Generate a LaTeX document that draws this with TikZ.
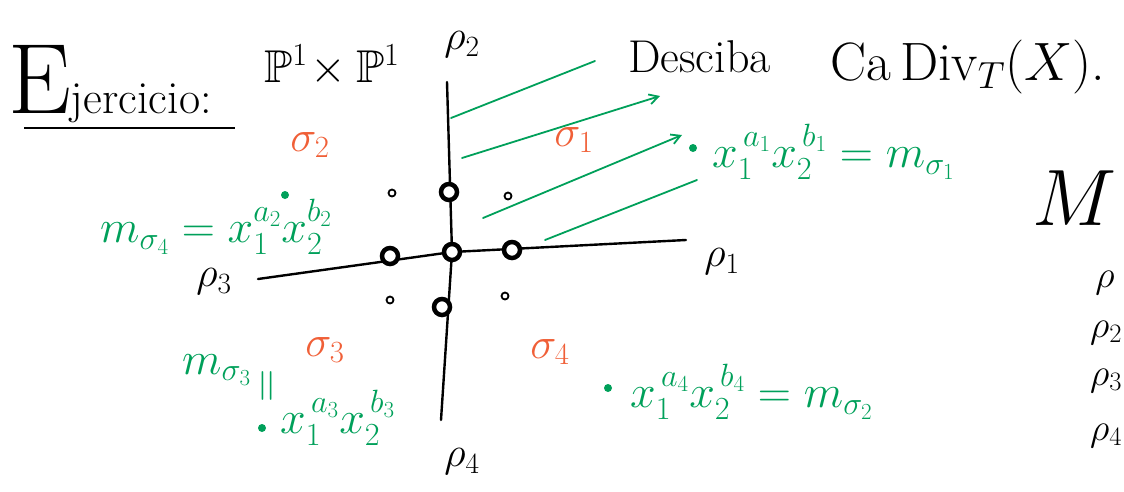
\RequirePackage{fix-cm}
\documentclass[tikz,border=0pt]{standalone}
\usepackage{amsmath, amssymb}
\usepackage{xcolor}
\usepackage{tikz}
\usetikzlibrary{arrows.meta}

\definecolor{penGreen}{RGB}{0,160,90}
\definecolor{penOrange}{RGB}{240,95,55}

\begin{document}
\begin{tikzpicture}[x=1pt, y=-1pt, >={Straight Barb[length=9pt, width=10pt]},
    axis/.style={line width=2.4pt, line cap=round},
    hatch/.style={penGreen, line width=1.8pt, line cap=round},
    bigpt/.style={circle, draw, line width=4.5pt, fill=white, inner sep=0pt, minimum size=16pt},
    smallpt/.style={circle, draw, line width=1.8pt, fill=white, inner sep=0pt, minimum size=7pt},
    gdot/.style={circle, fill=penGreen, inner sep=0pt, minimum size=8pt},
    conelabel/.style={text=penOrange, font=\fontsize{44}{44}\selectfont, inner sep=0pt},
    monomial/.style={text=penGreen, font=\fontsize{46}{46}\selectfont, inner sep=0pt},
    raylabel/.style={font=\fontsize{42}{42}\selectfont, inner sep=0pt},
    listlabel/.style={anchor=base, inner sep=0pt, font=\fontsize{38}{38}\selectfont},
    title/.style={font=\fontsize{46}{46}\selectfont, inner sep=0pt}]
    \useasboundingbox (0,0) rectangle (1124,491);

    % heading
    \node (ejer) [anchor=base west, inner sep=0pt] at (8,113) {{\fontsize{100}{100}\selectfont E}{\fontsize{46}{46}\selectfont jercicio:}};
    \draw[line width=2pt] (24,128) -- (235,128);
    \node (space) [title, anchor=base west] at (264,82) {$\mathbb{P}^1\!\times\mathbb{P}^1$};
    \node (task) [title, anchor=base west] at (628,72) {Desciba};
    \node (cadiv) [anchor=base west, inner sep=0pt, font=\fontsize{54}{54}\selectfont] at (830,80) {Ca\,Div$_T(X)$.};

    % fan
    \coordinate (r1end) at (686,240);
    \coordinate (r2end) at (447,82);
    \coordinate (r3end) at (258,279);
    \coordinate (r4end) at (441,420);
    \coordinate (origin) at (452,252);
    \draw[axis] (r3end) -- (origin) -- (r1end);
    \draw[axis] (r2end) -- (origin) -- (r4end);

    \node (r1) [raylabel] at (722,262) {$\rho_1$};
    \node (r2) [raylabel] at (462,45) {$\rho_2$};
    \node (r3) [raylabel] at (214,282) {$\rho_3$};
    \node (r4) [raylabel] at (462,462) {$\rho_4$};

    % lattice points
    \node (p00) [bigpt] at (origin) {};
    \node (p01) [bigpt] at (449,192) {};
    \node (p10) [bigpt] at (512,250) {};
    \node (pm0) [bigpt] at (390,256) {};
    \node (p0m) [bigpt] at (442,307) {};
    \node (pm1) [smallpt] at (392,193) {};
    \node (p11) [smallpt] at (508,196) {};
    \node (pmm) [smallpt] at (390,300) {};
    \node (p1m) [smallpt] at (505,296) {};

    % hatching of sigma_1
    \draw[hatch] (451,118) -- (595,61);
    \draw[hatch, ->] (462,158) -- (660,96);
    \draw[hatch, ->] (483,218) -- (682,135);
    \draw[hatch] (545,240) -- (697,180);

    % cones
    \node (s1) [conelabel] at (574,140) {$\sigma_1$};
    \node (s2) [conelabel] at (310,145) {$\sigma_2$};
    \node (s3) [conelabel] at (325,350) {$\sigma_3$};
    \node (s4) [conelabel] at (550,352) {$\sigma_4$};

    % monomials
    \node (d1) [gdot] at (693,148) {};
    \node (m1) [monomial, anchor=west] at (712,152) {$x_1^{\,a_1}x_2^{\,b_1}=m_{\sigma_1}$};
    \node (d2) [gdot] at (285,195) {};
    \node (m2) [monomial, anchor=west] at (100,227) {$m_{\sigma_4}=x_1^{a_2}x_2^{b_2}$};
    \node (m3) [monomial, anchor=west] at (182,370) {$m_{\sigma_3}$};
    \node (eq3) [monomial, rotate=90] at (270,386) {$=$};
    \node (d3) [gdot] at (262,428) {};
    \node (m3b) [monomial, anchor=west] at (280,418) {$x_1^{\,a_3}x_2^{\,b_3}$};
    \node (d4) [gdot] at (608,388) {};
    \node (m4) [monomial, anchor=west] at (630,392) {$x_1^{\,a_4}x_2^{\,b_4}=m_{\sigma_2}$};

    % list of rays
    \node (bigM) [anchor=base, inner sep=0pt, font=\fontsize{80}{80}\selectfont] at (1075,225) {$M$};
    \node (l1) [listlabel] at (1105,287) {$\rho$};
    \node (l2) [listlabel] at (1106,337) {$\rho_2$};
    \node (l3) [listlabel] at (1106,385) {$\rho_3$};
    \node (l4) [listlabel] at (1106,440) {$\rho_4$};
\end{tikzpicture}
\end{document}
